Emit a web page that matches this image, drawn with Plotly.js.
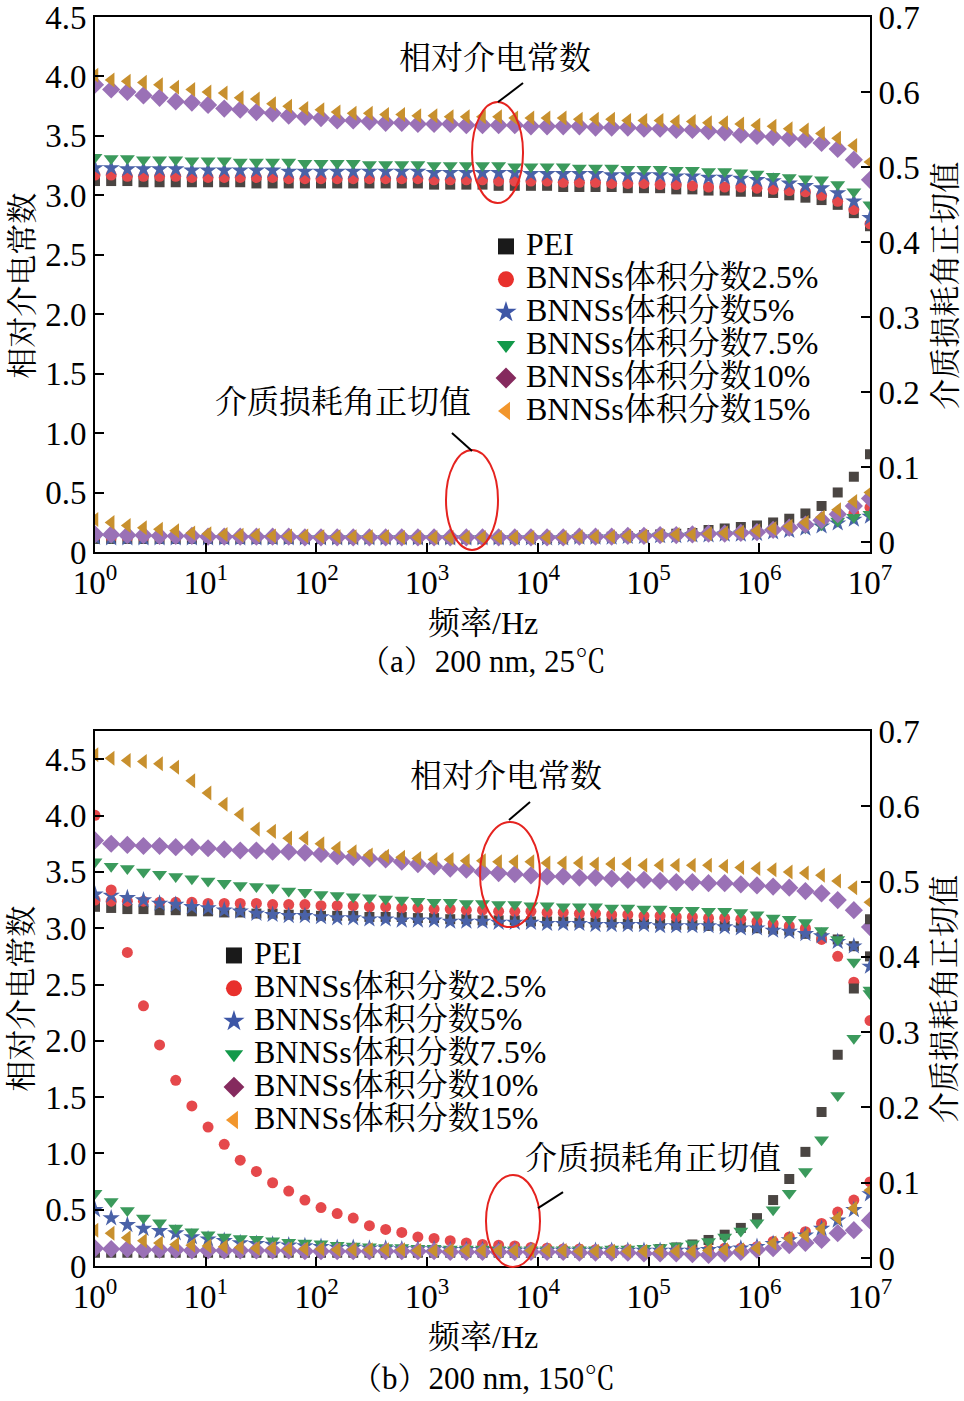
<!DOCTYPE html>
<html>
<head>
<meta charset="utf-8">
<script src="https://cdn.plot.ly/plotly-3.0.1.min.js"></script>
<style>html,body{margin:0;padding:0;background:#fff;}#chart{width:964px;height:1401px;}</style>
</head>
<body>
<div id="chart"></div>
<script>
// Frequency (Hz), shared by all series
const freq = [1, 1.4, 1.96, 2.74, 3.83, 5.36, 7.5, 10.5, 14.7, 20.5, 28.7, 40.2, 56.2, 78.7,
  110, 154, 215, 301, 422, 590, 825, 1155, 1616, 2260, 3162, 4424, 6190, 8660,
  12115, 16950, 23714, 33176, 46416, 64938, 90851, 127106, 177828, 248790, 348070, 486968, 681292, 953162,
  1333521, 1865663, 2610157, 3651741, 5108970, 7147701, 10000000];

const seriesNames = ['PEI', 'BNNSs体积分数2.5%', 'BNNSs体积分数5%', 'BNNSs体积分数7.5%', 'BNNSs体积分数10%', 'BNNSs体积分数15%'];

// (a) 200 nm, 25 °C : relative permittivity
const peiEpsA = [3.12,3.12,3.12,3.11,3.11,3.11,3.11, 3.11,3.11,3.11,3.10,3.10,3.10,3.10, 3.10,3.10,3.10,3.10,3.10,3.10,3.10, 3.09,3.09,3.09,3.09,3.08,3.08,3.08, 3.08,3.07,3.07,3.07,3.07,3.06,3.06, 3.06,3.05,3.05,3.04,3.04,3.03,3.03, 3.02,3.00,2.98,2.96,2.92,2.85,2.74];
const b25EpsA = [3.17,3.17,3.16,3.16,3.16,3.16,3.15, 3.15,3.15,3.15,3.15,3.15,3.14,3.14, 3.14,3.14,3.14,3.14,3.14,3.14,3.14, 3.13,3.13,3.13,3.13,3.12,3.12,3.12, 3.12,3.11,3.11,3.11,3.10,3.10,3.10, 3.09,3.09,3.08,3.07,3.07,3.07,3.06, 3.05,3.04,3.03,3.00,2.95,2.88,2.76];
const b5EpsA = [3.23,3.23,3.22,3.22,3.22,3.22,3.21, 3.21,3.21,3.21,3.21,3.21,3.20,3.20, 3.20,3.20,3.20,3.20,3.20,3.20,3.20, 3.19,3.19,3.19,3.19,3.19,3.19,3.18, 3.18,3.18,3.18,3.18,3.17,3.17,3.17, 3.17,3.16,3.16,3.15,3.15,3.14,3.13, 3.12,3.10,3.08,3.06,3.02,2.95,2.81];
const b75EpsA = [3.32,3.31,3.31,3.30,3.30,3.30,3.29, 3.29,3.29,3.28,3.28,3.28,3.28,3.27, 3.27,3.27,3.27,3.26,3.26,3.26,3.26, 3.25,3.25,3.25,3.25,3.25,3.24,3.24, 3.24,3.24,3.23,3.23,3.23,3.22,3.22, 3.22,3.21,3.21,3.20,3.20,3.19,3.18, 3.16,3.15,3.14,3.13,3.09,3.03,2.92];
const b10EpsA = [3.93,3.89,3.87,3.84,3.82,3.79,3.78, 3.76,3.73,3.72,3.70,3.69,3.67,3.66, 3.65,3.63,3.63,3.62,3.61,3.61,3.60, 3.60,3.60,3.59,3.59,3.59,3.59,3.58, 3.58,3.58,3.58,3.57,3.57,3.57,3.56, 3.56,3.55,3.55,3.54,3.53,3.51,3.50, 3.49,3.48,3.47,3.44,3.39,3.30,3.13];
const b15EpsA = [4.01,3.97,3.96,3.95,3.93,3.91,3.89, 3.87,3.86,3.82,3.81,3.77,3.75,3.73, 3.72,3.70,3.69,3.69,3.68,3.68,3.67, 3.67,3.66,3.66,3.66,3.66,3.65,3.65, 3.65,3.65,3.64,3.64,3.64,3.63,3.63, 3.63,3.62,3.62,3.61,3.61,3.60,3.59, 3.58,3.56,3.55,3.52,3.48,3.42,3.28];

// (a) dielectric loss tangent
const peiTanA = [0.004,0.004,0.004,0.004,0.004,0.004,0.004, 0.004,0.004,0.004,0.004,0.004,0.004,0.004, 0.004,0.004,0.004,0.004,0.004,0.004,0.004, 0.004,0.004,0.004,0.004,0.004,0.005,0.005, 0.005,0.005,0.006,0.006,0.007,0.008,0.009, 0.010,0.011,0.012,0.016,0.018,0.020,0.022, 0.026,0.031,0.038,0.048,0.066,0.087,0.117];
const b25TanA = [0.007,0.006,0.006,0.006,0.006,0.006,0.006, 0.006,0.006,0.006,0.006,0.006,0.006,0.006, 0.006,0.006,0.006,0.006,0.006,0.006,0.006, 0.006,0.006,0.006,0.006,0.006,0.006,0.006, 0.006,0.006,0.007,0.007,0.007,0.008,0.008, 0.009,0.009,0.010,0.011,0.011,0.012,0.013, 0.015,0.018,0.021,0.026,0.031,0.038,0.046];
const b5TanA = [0.006,0.005,0.005,0.005,0.005,0.005,0.005, 0.005,0.005,0.005,0.005,0.005,0.005,0.005, 0.005,0.005,0.005,0.005,0.005,0.005,0.005, 0.005,0.005,0.005,0.005,0.005,0.005,0.005, 0.005,0.005,0.006,0.006,0.006,0.007,0.007, 0.008,0.008,0.009,0.009,0.010,0.010,0.011, 0.013,0.015,0.018,0.021,0.025,0.030,0.034];
const b75TanA = [0.006,0.006,0.006,0.006,0.006,0.006,0.006, 0.005,0.005,0.005,0.005,0.005,0.005,0.005, 0.005,0.005,0.005,0.005,0.005,0.005,0.005, 0.005,0.005,0.005,0.005,0.005,0.005,0.005, 0.005,0.005,0.006,0.006,0.006,0.007,0.007, 0.008,0.008,0.009,0.009,0.010,0.011,0.012, 0.014,0.016,0.019,0.023,0.028,0.033,0.037];
const b10TanA = [0.010,0.010,0.009,0.009,0.008,0.008,0.008, 0.007,0.007,0.007,0.007,0.007,0.007,0.006, 0.006,0.006,0.006,0.006,0.006,0.006,0.006, 0.006,0.006,0.006,0.006,0.006,0.006,0.006, 0.006,0.006,0.007,0.007,0.007,0.008,0.008, 0.009,0.009,0.010,0.011,0.011,0.012,0.013, 0.016,0.019,0.023,0.029,0.037,0.048,0.058];
const b15TanA = [0.030,0.026,0.022,0.019,0.017,0.015,0.012, 0.011,0.010,0.009,0.009,0.008,0.008,0.008, 0.007,0.007,0.007,0.007,0.007,0.006,0.006, 0.006,0.006,0.006,0.006,0.006,0.006,0.006, 0.006,0.006,0.007,0.007,0.007,0.008,0.008, 0.009,0.010,0.010,0.011,0.012,0.013,0.015, 0.018,0.021,0.026,0.033,0.043,0.054,0.066];

// (b) 200 nm, 150 °C : relative permittivity
const peiEpsB = [3.19,3.18,3.17,3.17,3.16,3.16,3.15, 3.15,3.14,3.14,3.13,3.13,3.12,3.12, 3.11,3.11,3.11,3.10,3.10,3.10,3.09, 3.09,3.08,3.08,3.07,3.07,3.07,3.06, 3.06,3.06,3.05,3.05,3.05,3.04,3.04, 3.04,3.03,3.03,3.02,3.02,3.01,3.00, 2.99,2.98,2.95,2.92,2.90,2.84,2.75];
const b25EpsB = [3.25,3.24,3.24,3.24,3.23,3.23,3.23, 3.22,3.22,3.22,3.22,3.21,3.21,3.21, 3.20,3.20,3.20,3.19,3.19,3.18,3.18, 3.17,3.17,3.16,3.16,3.15,3.15,3.15, 3.14,3.14,3.13,3.13,3.12,3.12,3.11, 3.11,3.10,3.10,3.09,3.09,3.08,3.06, 3.04,3.02,3.00,2.90,2.75,2.52,2.18];
const b5EpsB = [3.30,3.29,3.27,3.25,3.22,3.21,3.19, 3.18,3.16,3.15,3.13,3.12,3.11,3.11, 3.10,3.09,3.09,3.08,3.08,3.07,3.07, 3.07,3.06,3.06,3.06,3.05,3.05,3.05, 3.04,3.04,3.04,3.03,3.03,3.03,3.03, 3.02,3.02,3.02,3.02,3.01,3.00,3.00, 2.98,2.97,2.95,2.93,2.88,2.84,2.66];
const b75EpsB = [3.59,3.55,3.53,3.50,3.48,3.46,3.44, 3.42,3.40,3.38,3.37,3.36,3.33,3.32, 3.30,3.29,3.28,3.27,3.26,3.25,3.24, 3.23,3.23,3.22,3.22,3.21,3.21,3.20, 3.20,3.19,3.19,3.19,3.18,3.18,3.17, 3.17,3.16,3.16,3.15,3.15,3.14,3.12, 3.09,3.08,3.05,2.98,2.90,2.70,2.42];
const b10EpsB = [3.78,3.75,3.74,3.73,3.73,3.72,3.72, 3.71,3.70,3.69,3.69,3.68,3.68,3.67, 3.66,3.64,3.63,3.62,3.61,3.59,3.57, 3.55,3.53,3.52,3.50,3.49,3.48,3.47, 3.46,3.46,3.45,3.45,3.44,3.43,3.43, 3.42,3.41,3.41,3.40,3.40,3.39,3.38, 3.37,3.36,3.33,3.31,3.25,3.16,3.01];
const b15EpsB = [4.54,4.51,4.49,4.48,4.46,4.43,4.31, 4.20,4.10,4.01,3.88,3.86,3.80,3.80, 3.75,3.71,3.68,3.65,3.64,3.63,3.62, 3.61,3.61,3.60,3.60,3.59,3.59,3.59, 3.58,3.58,3.58,3.57,3.57,3.57,3.56, 3.56,3.56,3.56,3.56,3.55,3.54,3.53, 3.52,3.50,3.49,3.47,3.42,3.36,3.23];

// (b) dielectric loss tangent
const peiTanB = [0.007,0.007,0.007,0.007,0.007,0.007,0.007, 0.007,0.007,0.007,0.007,0.007,0.007,0.007, 0.007,0.007,0.007,0.007,0.007,0.007,0.007, 0.007,0.007,0.007,0.007,0.007,0.007,0.007, 0.007,0.007,0.007,0.007,0.007,0.008,0.010, 0.012,0.014,0.018,0.024,0.031,0.040,0.053, 0.077,0.105,0.141,0.194,0.270,0.358,0.450];
const b25TanB = [0.588,0.489,0.406,0.335,0.283,0.236,0.202, 0.174,0.151,0.130,0.115,0.100,0.089,0.077, 0.067,0.059,0.053,0.043,0.038,0.034,0.028, 0.026,0.023,0.020,0.018,0.017,0.016,0.014, 0.013,0.012,0.012,0.011,0.011,0.011,0.010, 0.010,0.010,0.010,0.011,0.013,0.013,0.015, 0.022,0.028,0.035,0.046,0.061,0.077,0.101];
const b5TanB = [0.064,0.053,0.044,0.039,0.036,0.033,0.028, 0.025,0.023,0.020,0.019,0.018,0.017,0.016, 0.015,0.014,0.014,0.013,0.013,0.012,0.012, 0.012,0.011,0.011,0.011,0.011,0.010,0.010, 0.010,0.010,0.010,0.010,0.010,0.010,0.010, 0.010,0.010,0.010,0.011,0.012,0.013,0.015, 0.019,0.024,0.030,0.039,0.050,0.064,0.085];
const b75TanB = [0.086,0.075,0.063,0.053,0.047,0.040,0.035, 0.031,0.028,0.026,0.025,0.023,0.021,0.020, 0.019,0.017,0.016,0.015,0.014,0.014,0.013, 0.013,0.012,0.012,0.012,0.011,0.011,0.011, 0.011,0.011,0.011,0.011,0.012,0.012,0.013, 0.014,0.016,0.019,0.022,0.028,0.036,0.047, 0.064,0.086,0.115,0.157,0.216,0.292,0.356];
const b10TanB = [0.013,0.012,0.012,0.011,0.011,0.011,0.010, 0.010,0.010,0.010,0.010,0.010,0.010,0.009, 0.009,0.009,0.009,0.009,0.009,0.009,0.009, 0.009,0.008,0.008,0.008,0.008,0.008,0.008, 0.008,0.008,0.007,0.007,0.007,0.007,0.006, 0.006,0.006,0.005,0.004,0.006,0.008,0.011, 0.013,0.017,0.020,0.024,0.033,0.037,0.050];
const b15TanB = [0.037,0.033,0.027,0.023,0.020,0.018,0.017, 0.016,0.015,0.014,0.013,0.013,0.012,0.012, 0.012,0.011,0.011,0.011,0.011,0.011,0.010, 0.010,0.010,0.010,0.010,0.010,0.010,0.010, 0.010,0.010,0.009,0.009,0.009,0.009,0.009, 0.009,0.009,0.009,0.010,0.011,0.011,0.013, 0.020,0.026,0.030,0.039,0.053,0.066,0.090];

// Axis tick labels
const xTickVals = [1, 10, 100, 1000, 10000, 100000, 1000000, 10000000];
const xTickText = ['10<sup>0</sup>','10<sup>1</sup>','10<sup>2</sup>','10<sup>3</sup>','10<sup>4</sup>','10<sup>5</sup>','10<sup>6</sup>','10<sup>7</sup>'];
const epsTickVals = [0, 0.5, 1.0, 1.5, 2.0, 2.5, 3.0, 3.5, 4.0, 4.5];
const epsTickText = ['0','0.5','1.0','1.5','2.0','2.5','3.0','3.5','4.0','4.5'];
const tanTickVals = [0, 0.1, 0.2, 0.3, 0.4, 0.5, 0.6, 0.7];
const tanTickText = ['0','0.1','0.2','0.3','0.4','0.5','0.6','0.7'];

// Styles
const FONT = '"Liberation Serif", "Times New Roman", "Noto Serif CJK SC", "Noto Sans CJK SC", serif';
const symbols = ['square', 'circle', 'star', 'triangle-down', 'diamond', 'triangle-left'];
const sizes = [10, 11, 13, 13, 14, 13];
const plotColors = ['#4a4542', '#e5484b', '#4a62a8', '#3b9a5c', '#9a71b6', '#c8902e'];
const legendColors = ['#1a1a1a', '#e8302c', '#3d56a6', '#12994a', '#852a5e', '#f2962c'];

const epsA = [peiEpsA, b25EpsA, b5EpsA, b75EpsA, b10EpsA, b15EpsA];
const tanA = [peiTanA, b25TanA, b5TanA, b75TanA, b10TanA, b15TanA];
const epsB = [peiEpsB, b25EpsB, b5EpsB, b75EpsB, b10EpsB, b15EpsB];
const tanB = [peiTanB, b25TanB, b5TanB, b75TanB, b10TanB, b15TanB];

const traces = [];
function addSet(arrs, xa, ya) {
  arrs.forEach((ys, i) => {
    traces.push({
      type: 'scatter', mode: 'markers', x: freq, y: ys, xaxis: xa, yaxis: ya,
      showlegend: false, hoverinfo: 'skip',
      marker: {symbol: symbols[i], size: sizes[i], color: plotColors[i], line: {width: 0}}
    });
  });
}
addSet(epsA, 'x', 'y');
addSet(tanA, 'x', 'y2');
addSet(epsB, 'x2', 'y3');
addSet(tanB, 'x2', 'y4');

// legend entries
function addLegend(legendId, xa, ya) {
  seriesNames.forEach((nm, i) => {
    traces.push({
      type: 'scatter', mode: 'markers', x: [null], y: [null], xaxis: xa, yaxis: ya,
      name: '<span style="font-size:32px">' + nm + '</span>', legend: legendId, showlegend: true,
      marker: {symbol: symbols[i], size: 16, color: legendColors[i], line: {width: 0}}
    });
  });
}
addLegend('legend', 'x', 'y');
addLegend('legend2', 'x2', 'y3');

const tickFont = {family: FONT, size: 33, color: '#000'};
const axisCommon = {
  showline: true, linewidth: 2, linecolor: '#000', ticks: 'inside', ticklen: 9, tickwidth: 2,
  tickcolor: '#000', showgrid: false, zeroline: false, tickfont: tickFont, fixedrange: true,
  ticklabeloverflow: 'allow'
};
function xAx(anchor) {
  return Object.assign({}, axisCommon, {
    type: 'log', range: [0, 7], domain: [0, 1], anchor: anchor, mirror: true,
    tickmode: 'array', tickvals: xTickVals, ticktext: xTickText
  });
}
function yEps(dom, rng, anchor) {
  return Object.assign({}, axisCommon, {
    domain: dom, range: rng, anchor: anchor, tickmode: 'array', tickvals: epsTickVals, ticktext: epsTickText
  });
}
function yTan(over, rng, anchor) {
  return Object.assign({}, axisCommon, {
    overlaying: over, side: 'right', range: rng, anchor: anchor,
    tickmode: 'array', tickvals: tanTickVals, ticktext: tanTickText
  });
}

const txt = (text, x, y, size, angle) => ({
  text: text, xref: 'paper', yref: 'paper', x: x, y: y, xanchor: 'center', yanchor: 'middle',
  showarrow: false, textangle: angle || 0, font: {family: FONT, size: size, color: '#000'}
});

const annotations = [
  txt('相对介电常数', -0.094, 0.785, 31, -90),
  txt('介质损耗角正切值', 1.097, 0.785, 31, -90),
  txt('频率/Hz', 0.5006, 0.5148, 32),
  txt('（a）200 nm, 25℃', 0.5006, 0.4836, 31),
  txt('相对介电常数', 0.516, 0.9672, 32),
  txt('介质损耗角正切值', 0.32, 0.6918, 32),
  txt('相对介电常数', -0.094, 0.214, 31, -90),
  txt('介质损耗角正切值', 1.097, 0.214, 31, -90),
  txt('频率/Hz', 0.5006, -0.0568, 32),
  txt('（b）200 nm, 150℃', 0.5006, -0.0897, 31),
  txt('相对介电常数', 0.5303, 0.3923, 32),
  txt('介质损耗角正切值', 0.72, 0.0865, 32)
];

const red = {color: '#e5231f', width: 2};
const blk = {color: '#000', width: 2};
const shapes = [
  {type: 'circle', xref: 'paper', yref: 'paper', x0: 0.4865, x1: 0.5523, y0: 0.8511, y1: 0.9319, line: red},
  {type: 'line', xref: 'paper', yref: 'paper', x0: 0.5523, y0: 0.9472, x1: 0.5200, y1: 0.9319, line: blk},
  {type: 'circle', xref: 'paper', yref: 'paper', x0: 0.4529, x1: 0.5200, y0: 0.5733, y1: 0.6533, line: red},
  {type: 'line', xref: 'paper', yref: 'paper', x0: 0.4606, y0: 0.6669, x1: 0.4865, y1: 0.6525, line: blk},
  {type: 'circle', xref: 'paper', yref: 'paper', x0: 0.4968, x1: 0.5742, y0: 0.2714, y1: 0.3555, line: red},
  {type: 'line', xref: 'paper', yref: 'paper', x0: 0.5613, y0: 0.3715, x1: 0.5342, y1: 0.3571, line: blk},
  {type: 'circle', xref: 'paper', yref: 'paper', x0: 0.5045, x1: 0.5742, y0: -0.0008, y1: 0.0729, line: red},
  {type: 'line', xref: 'paper', yref: 'paper', x0: 0.6039, y0: 0.0592, x1: 0.5716, y1: 0.0464, line: blk}
];

const legendCommon = {
  xanchor: 'left', yanchor: 'top', bgcolor: 'rgba(0,0,0,0)', borderwidth: 0,
  font: {family: FONT, size: 23, color: '#000'}, tracegroupgap: 0, traceorder: 'normal'
};

const layout = {
  width: 964, height: 1401,
  margin: {l: 95, r: 94, t: 17, b: 135},
  paper_bgcolor: '#fff', plot_bgcolor: '#fff',
  font: {family: FONT, color: '#000'},
  xaxis: xAx('y'),
  yaxis: yEps([0.5717, 1], [0, 4.5], 'x'),
  yaxis2: yTan('y', [-0.0133, 0.7], 'x'),
  xaxis2: xAx('y3'),
  yaxis3: yEps([0, 0.4283], [0, 4.751], 'x2'),
  yaxis4: yTan('y3', [-0.0106, 0.7], 'x2'),
  legend: Object.assign({}, legendCommon, {x: 0.5045, y: 0.8335}),
  legend2: Object.assign({}, legendCommon, {x: 0.1535, y: 0.2658}),
  annotations: annotations,
  shapes: shapes
};

Plotly.newPlot('chart', traces, layout, {displayModeBar: false, staticPlot: true});
</script>
</body>
</html>
